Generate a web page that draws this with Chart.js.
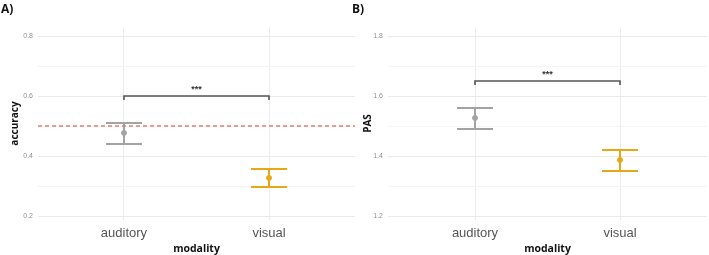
<!DOCTYPE html>
<html>
<head>
<meta charset="utf-8">
<script src="https://cdn.jsdelivr.net/npm/chart.js@4.4.1/dist/chart.umd.min.js"></script>
<style>
  body { margin: 0; background: #fff; }
  #wrap { position: relative; width: 709px; height: 255px; overflow: hidden; }
  canvas { position: absolute; top: 0; }
  .panel-tag { position: absolute; top: 0; font: bold 12px "Open Sans", sans-serif; color: #111; }
</style>
</head>
<body>
<div id="wrap">
  <canvas id="accChart" width="360" height="255" style="left:0"></canvas>
  <canvas id="pasChart" width="355" height="255" style="left:357px"></canvas>
  <div class="panel-tag" style="left:1px">A)</div>
  <div class="panel-tag" style="left:352px">B)</div>
</div>
<script>
// data
const categories = ["auditory", "visual"];
const barColors = ["#a3a3a3", "#e6a817"];

const accMean = [0.477, 0.327];
const accLow = [0.44, 0.297];
const accHigh = [0.51, 0.357];
const accChance = 0.5;
const accBracket = 0.6;
const accMajorTicks = [0.2, 0.4, 0.6, 0.8];
const accMinorTicks = [0.3, 0.5, 0.7];

const pasMean = [1.527, 1.387];
const pasLow = [1.49, 1.35];
const pasHigh = [1.56, 1.42];
const pasBracket = 1.65;
const pasMajorTicks = [1.2, 1.4, 1.6, 1.8];
const pasMinorTicks = [1.3, 1.5, 1.7];

const sigLabel = "***";
const capHalf = 0.124; // in category units

// error bars + significance bracket, placed through the chart scales
const errorBarPlugin = {
  id: "errorBars",
  beforeDatasetsDraw(chart, args, opts) {
    const { ctx, scales: { x, y } } = chart;
    ctx.save();
    ctx.lineWidth = 2;
    opts.low.forEach((lo, i) => {
      const cx = x.getPixelForValue(i + 1);
      const yLo = y.getPixelForValue(lo);
      const yHi = y.getPixelForValue(opts.high[i]);
      const x0 = x.getPixelForValue(i + 1 - capHalf);
      const x1 = x.getPixelForValue(i + 1 + capHalf);
      ctx.strokeStyle = barColors[i];
      ctx.beginPath();
      ctx.moveTo(cx, yLo); ctx.lineTo(cx, yHi);
      ctx.moveTo(x0, yLo); ctx.lineTo(x1, yLo);
      ctx.moveTo(x0, yHi); ctx.lineTo(x1, yHi);
      ctx.stroke();
    });
    ctx.restore();
  },
  afterDatasetsDraw(chart, args, opts) {
    const { ctx, scales: { x, y } } = chart;
    const xa = x.getPixelForValue(1);
    const xb = x.getPixelForValue(2);
    const yb = y.getPixelForValue(opts.bracket);
    ctx.save();
    ctx.strokeStyle = "#555";
    ctx.lineWidth = 1.6;
    ctx.beginPath();
    ctx.moveTo(xa, yb + 4); ctx.lineTo(xa, yb); ctx.lineTo(xb, yb); ctx.lineTo(xb, yb + 4);
    ctx.stroke();
    ctx.fillStyle = "#333";
    ctx.font = "bold 9px 'Liberation Sans', sans-serif";
    ctx.textAlign = "center";
    ctx.textBaseline = "middle";
    ctx.fillText(sigLabel, (xa + xb) / 2, yb - 6);
    ctx.restore();
  }
};

const makeChart = (id, cfg) => {
  const majors = cfg.majors;
  const allTicks = majors.concat(cfg.minors).sort((a, b) => a - b);
  const datasets = [
    {
      type: "scatter",
      data: cfg.mean.map((v, i) => ({ x: i + 1, y: v })),
      pointBackgroundColor: barColors,
      pointBorderColor: barColors,
      pointRadius: 2.5,
    },
  ];
  if (cfg.chance !== undefined) {
    datasets.push({
      type: "line",
      data: [{ x: cfg.xMin, y: cfg.chance }, { x: cfg.xMax, y: cfg.chance }],
      borderColor: "#e27f72",
      borderWidth: 1.6,
      borderDash: [4, 3],
      pointRadius: 0,
    });
  }
  return new Chart(document.getElementById(id), {
    type: "scatter",
    data: { datasets },
    plugins: [errorBarPlugin],
    options: {
      responsive: false,
      animation: false,
      layout: { padding: { top: 27, right: cfg.padRight, left: 0, bottom: 0 } },
      plugins: {
        legend: { display: false },
        tooltip: { enabled: false },
        errorBars: { low: cfg.low, high: cfg.high, bracket: cfg.bracket },
      },
      scales: {
        x: {
          type: "linear",
          min: cfg.xMin,
          max: cfg.xMax,
          afterBuildTicks: (s) => { s.ticks = categories.map((c, i) => ({ value: i + 1 })); },
          afterFit: (s) => { s.height = 35; },
          ticks: {
            autoSkip: false,
            maxRotation: 0,
            padding: 6,
            color: "#555",
            font: { family: "'Liberation Sans', sans-serif", size: 13 },
            callback: (v) => categories[v - 1],
          },
          grid: { color: "#ececec", drawTicks: false },
          border: { display: false },
          title: {
            display: true,
            text: "modality",
            color: "#111",
            font: { family: "'Open Sans', sans-serif", size: 10.5, weight: "bold" },
            padding: { top: 1.5, bottom: 0 },
          },
        },
        y: {
          min: cfg.yMin,
          max: cfg.yMax,
          afterBuildTicks: (s) => { s.ticks = allTicks.map((v) => ({ value: v })); },
          afterFit: (s) => { s.width = cfg.yWidth; },
          ticks: {
            padding: 5,
            color: "#8f8f8f",
            font: { family: "'Liberation Sans', sans-serif", size: 7 },
            callback: (v) => (majors.some((m) => Math.abs(m - v) < 1e-6) ? v.toFixed(1) : ""),
          },
          grid: {
            drawTicks: false,
            color: (c) => (majors.some((m) => Math.abs(m - c.tick.value) < 1e-6) ? "#e9e9e9" : "#f4f4f4"),
          },
          border: { display: false },
          title: {
            display: true,
            text: cfg.yTitle,
            color: "#111",
            font: { family: "'Open Sans', sans-serif", size: 10, weight: "bold" },
            padding: { top: cfg.titlePad, bottom: 0 },
          },
        },
      },
    },
  });
};

makeChart("accChart", {
  mean: accMean, low: accLow, high: accHigh, chance: accChance, bracket: accBracket,
  majors: accMajorTicks, minors: accMinorTicks, yMin: 0.1867, yMax: 0.83,
  xMin: 0.407, xMax: 2.593,
  yTitle: "accuracy", yWidth: 38, padRight: 2, titlePad: 9,
});
makeChart("pasChart", {
  mean: pasMean, low: pasLow, high: pasHigh, bracket: pasBracket,
  majors: pasMajorTicks, minors: pasMinorTicks, yMin: 1.1867, yMax: 1.83,
  xMin: 0.4, xMax: 2.6,
  yTitle: "PAS", yWidth: 31, padRight: 2, titlePad: 5,
});
</script>
</body>
</html>
